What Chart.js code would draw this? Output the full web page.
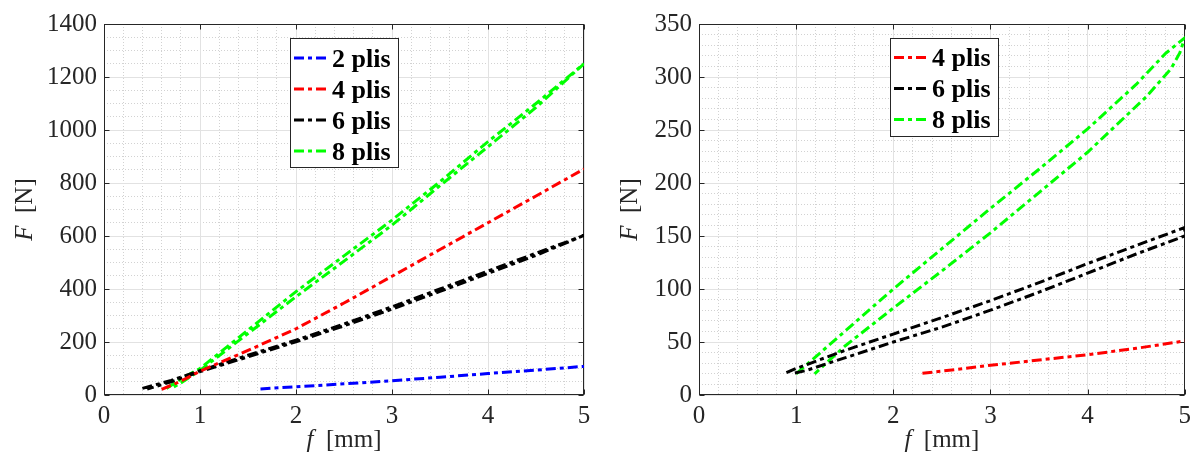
<!DOCTYPE html>
<html><head><meta charset="utf-8">
<script src="https://cdn.jsdelivr.net/npm/chart.js@4"></script>
<style>
html,body{margin:0;padding:0;background:#fff;}
#wrap{position:relative;width:1197px;height:459px;overflow:hidden;}
.box{position:absolute;top:0;height:459px;}
#b1{left:0;width:598px;} #b2{left:598px;width:599px;}
</style></head><body>
<div id="wrap"><div class="box" id="b1"><canvas id="c1" width="598" height="459"></canvas></div><div class="box" id="b2"><canvas id="c2" width="599" height="459"></canvas></div></div>
<script>
// ---------- tick labels ----------
const xTicks = [0, 1, 2, 3, 4, 5];
const yTicksLeft = [0, 200, 400, 600, 800, 1000, 1200, 1400];
const yTicksRight = [0, 50, 100, 150, 200, 250, 300, 350];

// ---------- series labels ----------
const labelsLeft = ['2 plis', '4 plis', '6 plis', '8 plis'];
const labelsRight = ['4 plis', '6 plis', '8 plis'];

// ---------- left chart data (f [mm], F [N]) ----------
const L2_f = [1.63, 2.0, 2.5, 3.0, 3.5, 4.0, 4.5, 5.0];
const L2_F = [23, 31, 42, 54, 67, 81, 94, 108];

const L4_f = [0.6, 0.8, 1.0, 1.5, 2.0, 2.5, 3.0, 3.5, 4.0, 4.5, 5.0];
const L4_F = [21, 52, 90, 168, 250, 347, 448, 549, 650, 751, 853];

const L6_f = [0.4, 0.7, 1.0, 1.5, 2.0, 2.5, 3.0, 3.5, 4.0, 4.5, 5.0, 4.5, 4.0, 3.5, 3.0, 2.5, 2.0, 1.5, 1.0, 0.7, 0.45];
const L6_F = [25, 55, 92, 150, 207, 268, 333, 400, 468, 535, 602, 527, 459, 391, 324, 261, 201, 144, 88, 50, 22];

const L8_f = [0.65, 0.8, 1.0, 1.5, 2.0, 2.5, 3.0, 3.5, 4.0, 4.5, 5.0, 4.5, 4.0, 3.5, 3.0, 2.5, 2.0, 1.5, 1.0, 0.8, 0.7];
const L8_F = [25, 60, 100, 245, 390, 525, 660, 805, 956, 1100, 1250, 1085, 937, 790, 641, 505, 371, 232, 93, 45, 25];

// ---------- right chart data ----------
const R4_f = [2.3, 2.5, 3.0, 3.5, 4.0, 4.5, 5.0];
const R4_F = [20.5, 22.5, 28, 33, 38, 44, 51];

const R6_f = [0.9, 1.0, 1.5, 2.0, 2.5, 3.0, 3.5, 4.0, 4.5, 5.0, 5.0, 4.5, 4.0, 3.5, 3.0, 2.5, 2.0, 1.5, 1.1, 0.95];
const R6_F = [21, 25, 42, 57.5, 73, 89, 106, 124, 141, 158, 150, 133, 115, 97, 80, 64, 50, 35, 23, 20];

const R8_f = [1.0, 1.25, 1.5, 1.75, 2.0, 2.5, 3.0, 3.5, 4.0, 4.5, 4.8, 5.0, 4.95, 4.86, 4.6, 4.0, 3.5, 3.0, 2.5, 2.0, 1.5, 1.19];
const R8_F = [20, 40, 60, 80, 100, 138, 176, 213, 251, 293, 322, 337, 323, 308, 281, 229, 191, 153, 117, 82, 46, 20];

// ---------- styling ----------
const SERIF = "'Liberation Serif', 'Times New Roman', serif";
const AXC = '#262626';
const DASH = [10, 4, 4, 4];

function pts(fs, Fs) { return fs.map((v, i) => ({ x: v, y: Fs[i] })); }
function ds(label, color, fs, Fs) {
  return { label, data: pts(fs, Fs), borderColor: color, backgroundColor: color,
    borderWidth: 3, borderDash: DASH, showLine: true, pointRadius: 0, fill: false, tension: 0 };
}

const framePlugin = {
  id: 'frame',
  beforeDatasetsDraw(chart) {
    const { ctx, chartArea: a, scales } = chart;
    ctx.save();
    ctx.strokeStyle = AXC; ctx.lineWidth = 1;
    const L = Math.round(a.left) + 0.5, R = Math.round(a.right) - 0.5, T = Math.round(a.top) + 0.5, B = Math.round(a.bottom) - 0.5;
    ctx.strokeRect(L, T, R - L, B - T);
    ctx.beginPath();
    scales.x.ticks.forEach(t => {
      const px = Math.round(scales.x.getPixelForValue(t.value)) + 0.5;
      ctx.moveTo(px, B); ctx.lineTo(px, B - 5);
      ctx.moveTo(px, T); ctx.lineTo(px, T + 5);
    });
    scales.y.ticks.forEach(t => {
      const py = Math.round(scales.y.getPixelForValue(t.value)) + 0.5;
      ctx.moveTo(L, py); ctx.lineTo(L + 5, py);
      ctx.moveTo(R, py); ctx.lineTo(R - 5, py);
    });
    ctx.stroke();
    ctx.restore();
  },
  afterDraw(chart, args, o) {
    const { ctx, chartArea: a } = chart;
    ctx.save();
    ctx.fillStyle = AXC;
    ctx.textBaseline = 'middle';
    const drawMixed = (it, rest, cx, cy) => {
      ctx.font = 'italic 25px ' + SERIF;
      const w1 = ctx.measureText(it).width;
      ctx.font = '25px ' + SERIF;
      const w2 = ctx.measureText(rest).width;
      let x0 = cx - (w1 + w2) / 2;
      ctx.textAlign = 'left';
      ctx.font = 'italic 25px ' + SERIF;
      ctx.fillText(it, x0, cy);
      ctx.font = '25px ' + SERIF;
      ctx.fillText(rest, x0 + w1, cy);
    };
    drawMixed('f', '  [mm]', (a.left + a.right) / 2, o.xTitleY);
    ctx.translate(o.yTitleX, (a.top + a.bottom) / 2);
    ctx.rotate(-Math.PI / 2);
    drawMixed('F', '  [N]', 0, 0);
    ctx.restore();

    const lg = o.legend;
    ctx.save();
    ctx.fillStyle = '#fff';
    ctx.fillRect(lg.left, lg.top, lg.width, lg.height);
    ctx.strokeStyle = AXC; ctx.lineWidth = 1;
    ctx.strokeRect(lg.left + 0.5, lg.top + 0.5, lg.width, lg.height);
    ctx.font = 'bold 26px ' + SERIF;
    ctx.textBaseline = 'alphabetic';
    ctx.textAlign = 'left';
    chart.data.datasets.forEach((d, i) => {
      const y = lg.row0 + i * lg.step;
      ctx.strokeStyle = d.borderColor;
      ctx.lineWidth = 3;
      ctx.setLineDash(DASH);
      ctx.beginPath();
      ctx.moveTo(lg.left + 4, y); ctx.lineTo(lg.left + 38, y);
      ctx.stroke();
      ctx.setLineDash([]);
      ctx.fillStyle = '#000';
      ctx.fillText(d.label, lg.left + 42, y + 8.5);
    });
    ctx.restore();
  }
};

function makeScales(yTicks, ymax, yMinor, yWidth) {
  return {
    xm: { type: 'linear', min: 0, max: 5, position: 'bottom',
      ticks: { display: false, stepSize: 0.2 },
      grid: { color: '#d2d2d2', lineWidth: 1, drawTicks: false, z: -2 },
      border: { display: false, dash: [1, 2] },
      afterFit: s => { s.height = 0; } },
    ym: { type: 'linear', min: 0, max: ymax, position: 'left',
      ticks: { display: false, stepSize: yMinor },
      grid: { color: '#d2d2d2', lineWidth: 1, drawTicks: false, z: -2 },
      border: { display: false, dash: [1, 2] },
      afterFit: s => { s.width = 0; } },
    x: { type: 'linear', min: 0, max: 5, position: 'bottom',
      afterBuildTicks: ax => { ax.ticks = xTicks.map(v => ({ value: v })); },
      ticks: { font: { family: SERIF, size: 25 }, color: AXC, padding: 6, maxRotation: 0, autoSkip: false,
        callback: v => String(v) },
      grid: { color: '#e2e2e2', lineWidth: 1, drawTicks: false, z: -1 },
      border: { display: false },
      afterFit: s => { s.height = 64; } },
    y: { type: 'linear', min: 0, max: ymax, position: 'left',
      afterBuildTicks: ax => { ax.ticks = yTicks.map(v => ({ value: v })); },
      ticks: { font: { family: SERIF, size: 25 }, color: AXC, padding: 7, autoSkip: false,
        callback: v => String(v) },
      grid: { color: '#e2e2e2', lineWidth: 1, drawTicks: false, z: -1 },
      border: { display: false },
      afterFit: s => { s.width = yWidth; } }
  };
}

new Chart(document.getElementById('c1'), {
  type: 'scatter',
  data: { datasets: [
    ds(labelsLeft[0], '#0000ff', L2_f, L2_F),
    ds(labelsLeft[1], '#ff0000', L4_f, L4_F),
    ds(labelsLeft[2], '#000000', L6_f, L6_F),
    ds(labelsLeft[3], '#00ff00', L8_f, L8_F)
  ] },
  options: {
    responsive: false, animation: false, devicePixelRatio: 1,
    layout: { padding: { top: 24, right: 14, left: 0, bottom: 0 } },
    scales: makeScales(yTicksLeft, 1400, 50, 104),
    plugins: { legend: { display: false }, tooltip: { enabled: false },
      frame: { xTitleY: 440, yTitleX: 25,
        legend: { left: 290, top: 38, width: 108, height: 129, row0: 58, step: 31 } } }
  },
  plugins: [framePlugin]
});

new Chart(document.getElementById('c2'), {
  type: 'scatter',
  data: { datasets: [
    ds(labelsRight[0], '#ff0000', R4_f, R4_F),
    ds(labelsRight[1], '#000000', R6_f, R6_F),
    ds(labelsRight[2], '#00ff00', R8_f, R8_F)
  ] },
  options: {
    responsive: false, animation: false, devicePixelRatio: 1,
    layout: { padding: { top: 24, right: 9, left: 0, bottom: 0 } },
    scales: makeScales(yTicksRight, 350, 10, 101),
    plugins: { legend: { display: false }, tooltip: { enabled: false },
      frame: { xTitleY: 440, yTitleX: 32,
        legend: { left: 292, top: 38, width: 108, height: 98, row0: 57.5, step: 31 } } }
  },
  plugins: [framePlugin]
});
</script>
</body></html>
